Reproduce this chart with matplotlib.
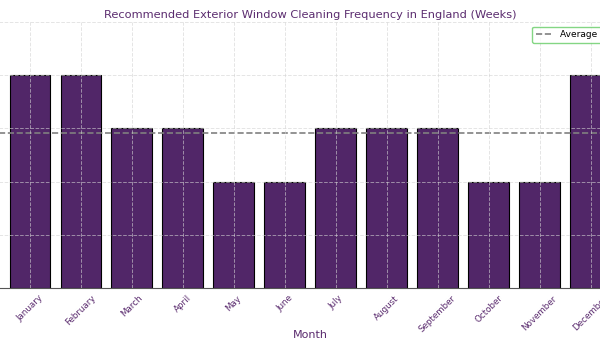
import matplotlib
matplotlib.use('Agg')
import matplotlib.pyplot as plt
import numpy as np

# ── Данные ──────────────────────────────────────────────────────
months = ["January", "February", "March", "April", "May", "June",
          "July", "August", "September", "October", "November", "December"]
weeks = [4, 4, 3, 3, 2, 2, 3, 3, 3, 2, 2, 4]

TEXT_COLOR = "#5B2C6F"
BAR_COLOR = "#512668"

fig = plt.figure(figsize=(6, 3.5), dpi=100)
# оси чуть шире фигуры: слева и справа обрезаны, как на образце
ax = fig.add_axes([-20.5 / 600, 62 / 350, 661.5 / 600, 266 / 350])

x = np.arange(len(months))
ax.bar(x, weeks, width=0.8, color=BAR_COLOR, edgecolor="black", linewidth=0.8)

avg = np.mean(weeks)
ax.axhline(avg, color="gray", linestyle="--", linewidth=1.2,
           label="Average Frequency")

ax.set_ylim(0, 5)
ax.set_xlim(-0.99, 11.99)
ax.set_xticks(x)
ax.set_xticklabels(months, rotation=45, ha="center", fontsize=6.3, color=TEXT_COLOR)
ax.tick_params(axis="x", length=0, pad=4)
ax.tick_params(axis="y", colors=TEXT_COLOR, labelsize=7)
ax.set_xlabel("Month", fontsize=8, color=TEXT_COLOR, labelpad=-3)
ax.set_ylabel("Frequency (Weeks)", fontsize=8, color=TEXT_COLOR)
ax.set_title("Recommended Exterior Window Cleaning Frequency in England (Weeks)",
             fontsize=8.2, color=TEXT_COLOR, pad=3)

ax.grid(True, linestyle="--", color="lightgray", alpha=0.6, linewidth=0.7)
ax.set_axisbelow(False)

for side in ["top", "right"]:
    ax.spines[side].set_visible(False)
ax.spines["bottom"].set_color("#555555")
ax.spines["left"].set_color("#555555")

leg = ax.legend(loc="upper right", bbox_to_anchor=(1 + 14 / 661.5, 1),
                fontsize=6.5, frameon=True, handlelength=1.9)
leg.get_frame().set_edgecolor("#66cc66")

fig.savefig("out.png", dpi=100)
